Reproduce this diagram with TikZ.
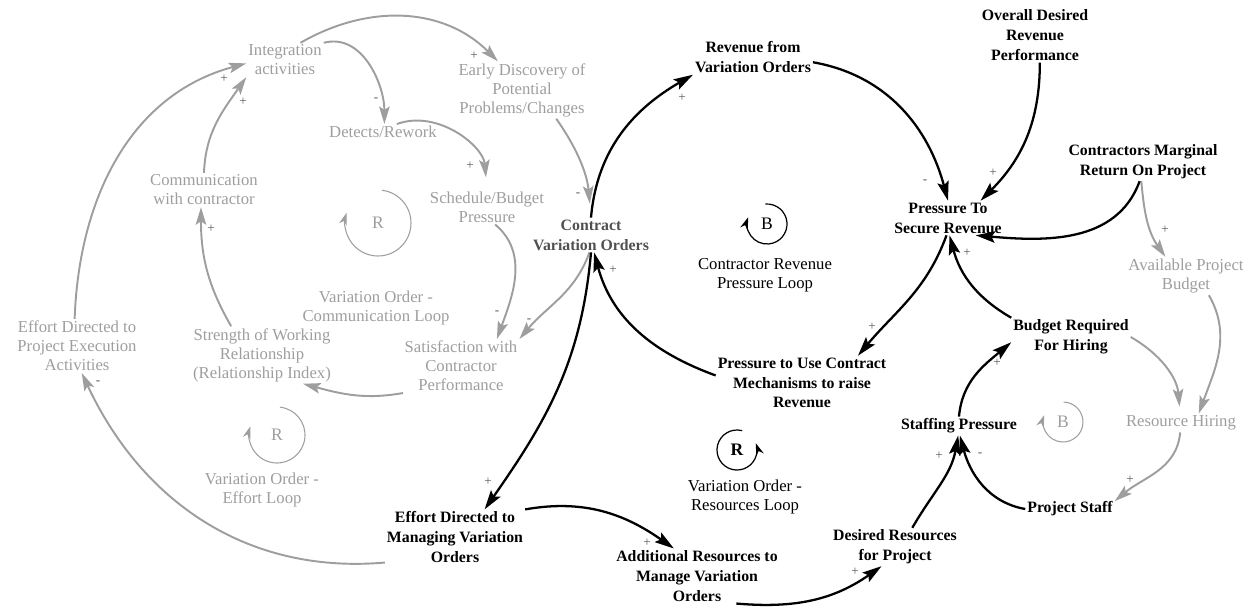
\documentclass[tikz,border=0pt]{standalone}
\usepackage{fontspec}
\setmainfont{Liberation Serif}
\usepackage{tikz}
\usetikzlibrary{arrows.meta}
\definecolor{faded}{RGB}{158,158,158}
\definecolor{cvoink}{RGB}{80,80,80}
\tikzset{
  var/.style={align=center,inner sep=1pt,font=\bfseries\fontsize{9}{11.3}\selectfont},
  gvar/.style={align=center,inner sep=1pt,text=faded,font=\fontsize{9.5}{10.8}\selectfont},
  link/.style={-{Stealth[length=11pt,width=6.5pt,inset=2pt]},line width=1.3pt},
  glink/.style={-{Stealth[length=10pt,width=6pt,inset=2pt]},line width=1.1pt,draw=faded},
  sign/.style={inner sep=0pt,text=black!65,font=\fontsize{7.5}{8}\selectfont},
  loopname/.style={inner sep=0pt,font=\fontsize{10}{12}\selectfont},
  looplabel/.style={align=center,inner sep=0pt,font=\fontsize{9.5}{11}\selectfont},
  bloop/.style={-{Stealth[length=7pt,width=4.5pt]},line width=0.7pt},
  gloop/.style={-{Stealth[length=7pt,width=4.5pt]},line width=0.6pt,draw=faded},
}

\begin{document}
\begin{tikzpicture}[x=0.02cm,y=0.02cm]
\useasboundingbox (0,0) rectangle (1259,-613);

%faded variables (left and right)
\node (intact) at (285,-60) [gvar] {Integration\\activities};
\node (earlydisc) at (522,-90) [gvar] {Early Discovery of\\Potential\\Problems/Changes};
\node (detects) at (383,-132) [gvar] {Detects/Rework};
\node (comm) at (204,-190) [gvar] {Communication\\with contractor};
\node (sched) at (487,-207) [gvar] {Schedule/Budget\\Pressure};
\node (strength) at (262,-355) [gvar] {Strength of Working\\Relationship\\(Relationship Index)};
\node (satisf) at (461,-366) [gvar] {Satisfaction with\\Contractor\\Performance};
\node (effortpe) at (77,-346) [gvar] {Effort Directed to\\Project Execution\\Activities};
\node (availbud) at (1186,-276) [gvar] {Available Project\\Budget};
\node (hiring) at (1181,-423) [gvar] {Resource Hiring};

%main variables
\node (cvo) at (591,-235) [var,text=cvoink] {Contract\\Variation Orders};
\node (revvo) at (753,-57) [var] {Revenue from\\Variation Orders};
\node (overall) at (1035,-35) [var] {Overall Desired\\Revenue\\Performance};
\node (marginal) at (1143,-162) [var] {Contractors Marginal\\Return On Project};
\node (psecure) at (948,-218) [var] {Pressure To\\Secure Revenue};
\node (budget) at (1071,-337) [var] {Budget Required\\For Hiring};
\node (puse) at (802,-383) [var] {Pressure to Use Contract\\Mechanisms to raise\\Revenue};
\node (staffing) at (959,-426) [var] {Staffing Pressure};
\node (staff) at (1070,-509) [var] {Project Staff};
\node (desired) at (895,-547) [var] {Desired Resources\\for Project};
\node (addres) at (697,-576) [var] {Additional Resources to\\Manage Variation\\Orders};
\node (effortvo) at (455,-537) [var] {Effort Directed to\\Managing Variation\\Orders};

%faded links
\draw [glink] (effortpe.95) to[out=88,in=195] (intact.185);
\draw [glink] (comm.north) to[out=88,in=235] (intact.south west);
\draw [glink] (intact.north east) to[out=15,in=90] (detects.80);
\draw [glink] (intact.48) to[out=30,in=135] (earlydisc.130);
\draw [glink,shorten >=7pt] (detects.30) to[out=20,in=95] (sched.north);
\draw [glink,shorten >=8pt] (earlydisc.-40) to[out=-55,in=95] (cvo.north);
\draw [glink] (sched.-65) to[out=-40,in=70] (satisf.37);
\draw [glink] (cvo.-95) to[out=-110,in=50] (satisf.north east);
\draw [glink] (satisf.205) to[out=190,in=-15] (strength.-35);
\draw [glink] (strength.137) to[out=120,in=-90] (comm.-100);
\draw [glink] (effortvo.200) to[out=185,in=-65] (effortpe.-80);
\draw [glink] (marginal.-95) to[out=-85,in=125] (availbud.137);
\draw [glink] (availbud.-40) to[out=-60,in=70] (hiring.28);
\draw [glink,shorten >=4pt] (budget.east) to[out=-30,in=95] (hiring.95);
\draw [glink] (hiring.-95) to[out=-95,in=40] (staff.10);

%main links
\draw [link] (cvo.north) to[out=85,in=210] (revvo.south west);
\draw [link] (revvo.-5) to[out=-10,in=105] (psecure.north);
\draw [link] (overall.-80) to[out=-90,in=45] (psecure.28);
\draw [link] (marginal.-100) to[out=-110,in=-5] (psecure.-32);
\draw [link] (psecure.-95) to[out=-110,in=50] (puse.26);
\draw [link] (budget.north west) to[out=150,in=-75] (psecure.-85);
\draw [link] (puse.175) to[out=160,in=-75] (cvo.-80);
\draw [link] (cvo.south) to[out=-95,in=55] (effortvo.43);
\draw [link] (effortvo.north east) to[out=10,in=145] (addres.130);
\draw [link] (addres.-35) to[out=-5,in=215] (desired.-125);
\draw [link] (desired.48) to[out=60,in=-100] (staffing.-95);
\draw [link] (staff.west) to[out=170,in=-75] (staffing.-85);
\draw [link] (staffing.north) to[out=85,in=220] (budget.185);

%polarity signs
\foreach \px/\py/\s [count=\n] in {224/79/+, 243/102/+, 376/100/-, 474/56/+, 470/166/+,
    578/195/-, 497/313/-, 529/321/-, 211/229/+, 98/383/-, 1165/230/+, 1130/480/+,
    682/98/+, 925/182/-, 993/173/+, 872/327/+, 967/253/+, 613/270/+, 488/482/+,
    647/543/+, 855/572/+, 939/456/+, 980/455/-, 997/363/+}
  \node (sg\n) at (\px,-\py) [sign] {\s};

%loop markers
\node (rcomm) at (378,-223) [loopname,text=faded] {R};
\draw [gloop] (rcomm.center) ++(83:33) arc[start angle=83,end angle=-198,radius=33];
\node (rcommlbl) at (376,-308) [looplabel,text=faded] {Variation Order -\\Communication Loop};

\node (reffort) at (277,-435) [loopname,text=faded] {R};
\draw [gloop] (reffort.center) ++(84:28) arc[start angle=84,end angle=-198,radius=28];
\node (refflbl) at (262,-490) [looplabel,text=faded] {Variation Order -\\Effort Loop};

\node (brev) at (767,-224) [loopname] {B};
\draw [bloop] (brev.center) ++(95:20) arc[start angle=95,end angle=-200,radius=20];
\node (brevlbl) at (765,-275) [looplabel] {Contractor Revenue\\Pressure Loop};

\node (rres) at (737,-450) [loopname,font=\bfseries\fontsize{10}{12}\selectfont] {R};
\draw [bloop] (rres.center) ++(75:20) arc[start angle=75,end angle=380,radius=20];
\node (rreslbl) at (745,-497) [looplabel] {Variation Order -\\Resources Loop};

\node (bhire) at (1063,-422) [loopname,text=faded] {B};
\draw [gloop] (bhire.center) ++(88:20) arc[start angle=88,end angle=-200,radius=20];
\end{tikzpicture}
\end{document}
